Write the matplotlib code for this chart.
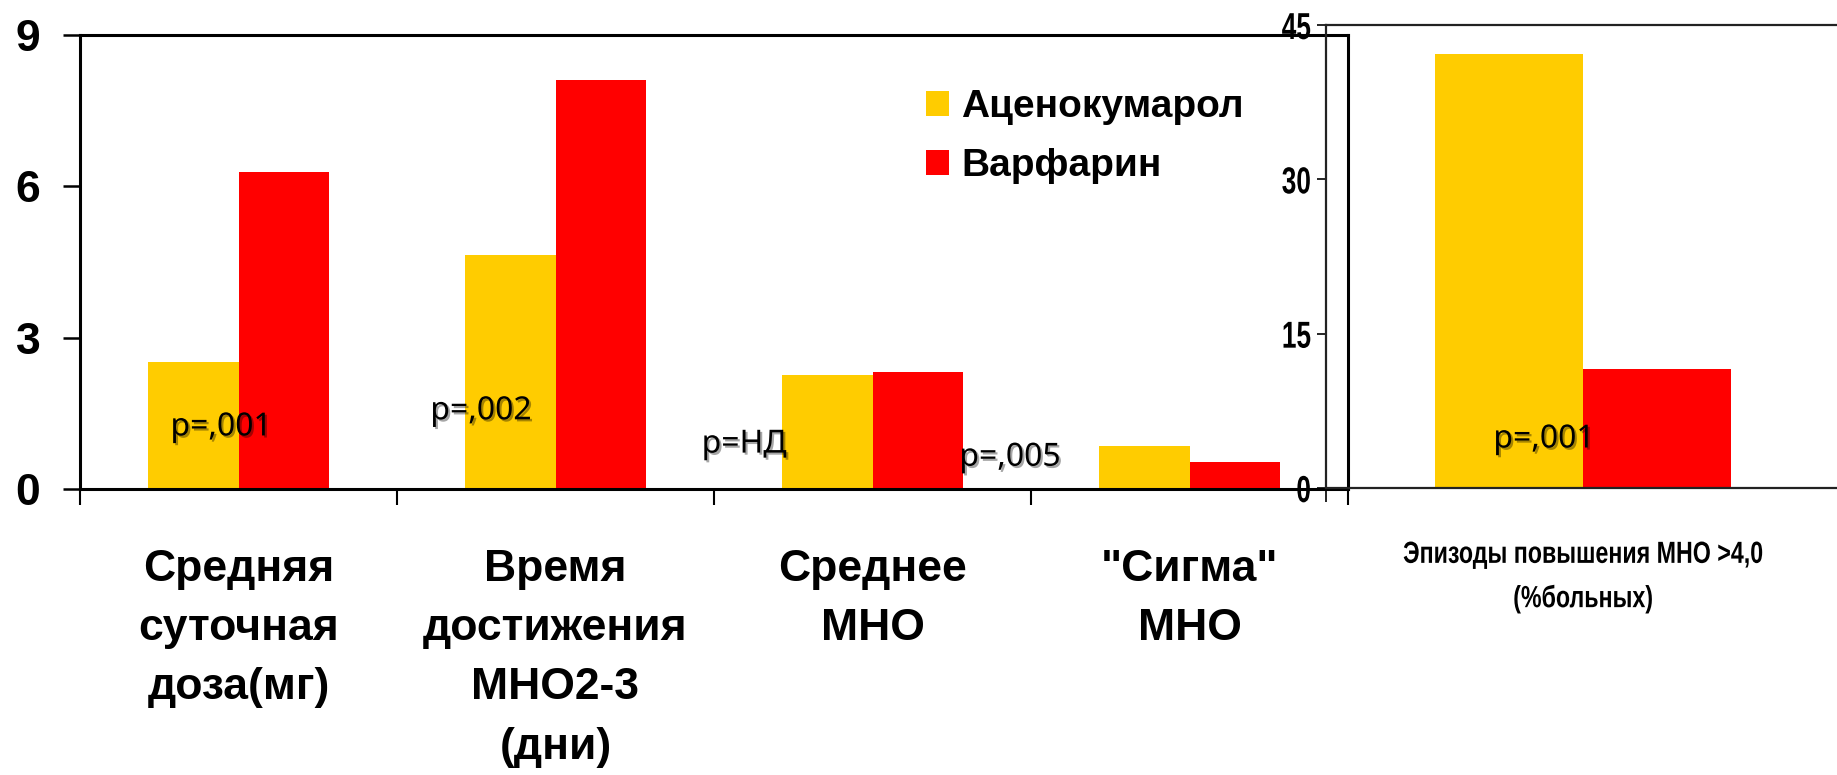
import matplotlib
matplotlib.use("Agg")
import matplotlib.pyplot as plt
import matplotlib.patheffects as pe
from matplotlib.transforms import Affine2D
import numpy as np

# mean values per parameter
categories = ["Средняя\nсуточная\nдоза(мг)",
              "Время\nдостижения\nМНО2-3\n(дни)",
              "Среднее\nМНО",
              "\"Сигма\"\nМНО"]
acenocoumarol = [2.52, 4.63, 2.26, 0.85]
warfarin = [6.29, 8.11, 2.31, 0.54]
p_values = ["p=,001", "p=,002", "p=НД", "p=,005"]
p_pos = [(-0.055, 1.23), (0.765, 1.55), (1.595, 0.89), (2.434, 0.63)]

# episodes of INR > 4.0, % of patients
episodes_label = "Эпизоды повышения МНО >4,0\n(%больных)"
episodes_acen = 42.2
episodes_warf = 11.56
episodes_p = "p=,001"
episodes_p_pos = (-0.076, 4.76)

series_names = ["Аценокумарол", "Варфарин"]
YELLOW = "#FFCC00"
RED = "#FF0000"


class Squeeze(pe.AbstractPathEffect):
    """Draw text squeezed horizontally (poor man's condensed font)."""

    def __init__(self, sx, anchor="center"):
        super().__init__()
        self.sx = sx
        self.anchor = anchor

    def draw_path(self, renderer, gc, tpath, affine, rgbFace=None):
        ext = tpath.get_extents(affine)
        cx = ext.x1 if self.anchor == "right" else (ext.x0 + ext.x1) / 2
        squeezed = affine + Affine2D().translate(-cx, 0).scale(self.sx, 1).translate(cx, 0)
        renderer.draw_path(gc, tpath, squeezed, rgbFace)


W, H = 1837, 775
fig = plt.figure(figsize=(W / 100, H / 100), dpi=100)

bold = dict(family=["Liberation Sans", "DejaVu Sans"], weight="bold")
shadow = [pe.withSimplePatchShadow(offset=(1.5, -1.5), shadow_rgbFace="black", alpha=0.35)]

# ---- left panel ----
ax = fig.add_axes([80 / W, 1 - 489 / H, 1268 / W, 454 / H])
x = np.arange(len(categories))
bw = 0.287
b1 = ax.bar(x - bw / 2, acenocoumarol, bw, color=YELLOW, label=series_names[0])
b2 = ax.bar(x + bw / 2, warfarin, bw, color=RED, label=series_names[1])
ax.set_xlim(-0.5, len(categories) - 0.5)
ax.set_ylim(0, 9)
ax.set_yticks([0, 3, 6, 9])
ax.set_xticks(np.arange(len(categories) + 1) - 0.5)
ax.set_xticklabels([])
ax.tick_params(axis="y", direction="out", length=12, width=1.8, pad=16.5)
ax.tick_params(axis="x", direction="out", length=11.5, width=1.5)
for lab in ax.get_yticklabels():
    lab.set_fontsize(32)
    lab.set_fontfamily(bold["family"])
    lab.set_fontweight("bold")
for sp in ax.spines.values():
    sp.set_linewidth(2.2)
    sp.set_color("black")

for i, name in enumerate(categories):
    ax.text(i, -0.132, name, transform=ax.get_xaxis_transform(), ha="center",
            va="top", fontsize=32, linespacing=1.57, **bold)

for txt, (px, py) in zip(p_values, p_pos):
    ax.text(px, py, txt, ha="center", va="center", fontsize=23,
            family=["Noto Sans", "DejaVu Sans"], path_effects=shadow)

fig.legend(handles=[b1, b2], labels=series_names, loc="upper left",
           bbox_to_anchor=(926 / W, 1 - 89 / H), frameon=False,
           prop=dict(size=28, **bold), handlelength=0.6, handleheight=0.6,
           handletextpad=0.3, labelspacing=0.6, borderpad=0, borderaxespad=0)

# ---- right panel ----
ax2 = fig.add_axes([1326 / W, 1 - 488 / H, (W - 1326) / W, 463 / H])
ax2.bar([-0.144], [episodes_acen], 0.288, color=YELLOW)
ax2.bar([0.144], [episodes_warf], 0.288, color=RED)
ax2.set_xlim(-0.5, 0.494)
ax2.set_ylim(0, 45)
ax2.set_yticks([0, 15, 30, 45])
ax2.set_xticks([-0.5])
ax2.set_xticklabels([])
ax2.tick_params(axis="y", direction="out", length=6.5, width=1.2, pad=4)
ax2.tick_params(axis="x", direction="out", length=10, width=1.2)
for lab in ax2.get_yticklabels():
    lab.set_fontsize(27)
    lab.set_fontfamily(bold["family"])
    lab.set_fontweight("bold")
    lab.set_path_effects([Squeeze(0.7, "right")])
ax2.spines["right"].set_visible(False)
for k in ["left", "top", "bottom"]:
    ax2.spines[k].set_linewidth(1.6)
    ax2.spines[k].set_color("#222222")
ax2.patch.set_alpha(0)

ax2.text(0.0, -0.112, episodes_label, transform=ax2.get_xaxis_transform(),
         ha="center", va="top", fontsize=22, linespacing=1.6,
         path_effects=[Squeeze(0.76)], **bold)
ax2.text(episodes_p_pos[0], episodes_p_pos[1], episodes_p, ha="center", va="center",
         fontsize=23, family=["Noto Sans", "DejaVu Sans"], path_effects=shadow)

fig.savefig("out.png", dpi=100)
